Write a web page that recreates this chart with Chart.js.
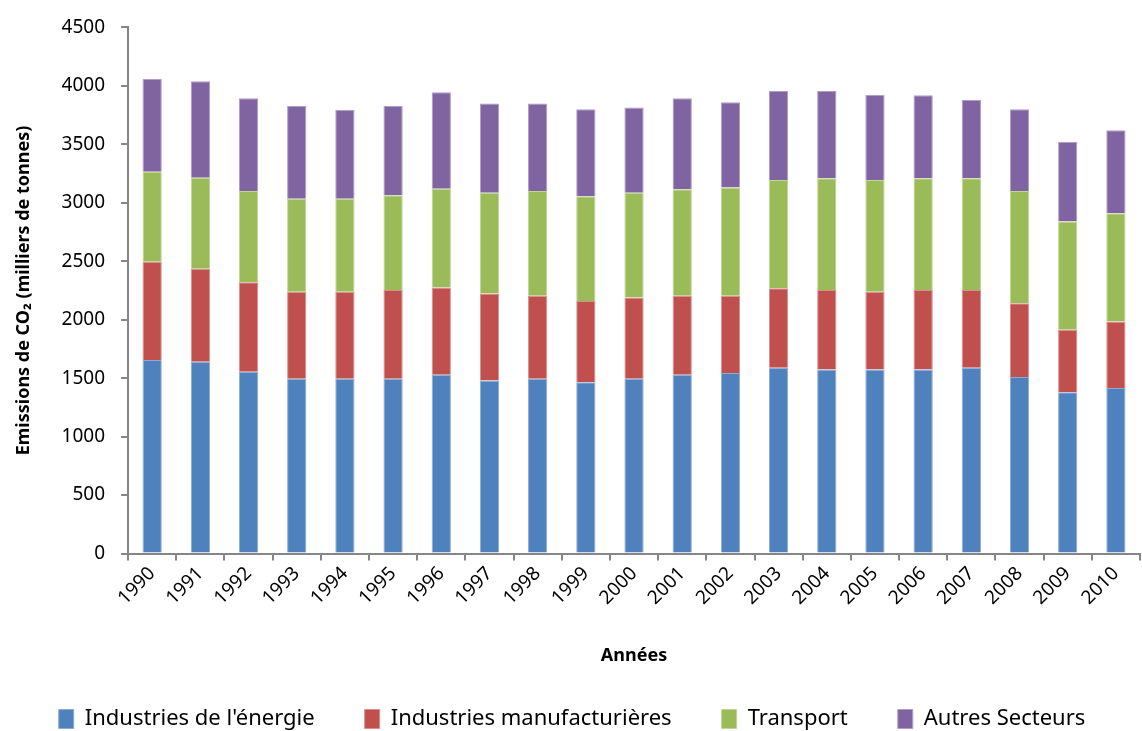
<!DOCTYPE html>
<html>
<head>
<meta charset="utf-8">
<script src="https://cdn.jsdelivr.net/npm/chart.js@4/dist/chart.umd.min.js"></script>
<style>
  html, body { margin: 0; padding: 0; background: #fff; }
  #wrap { width: 1142px; height: 731px; }
</style>
</head>
<body>
<div id="wrap"><canvas id="co2-chart"></canvas></div>
<script>
// Years
const years = ["1990", "1991", "1992", "1993", "1994", "1995", "1996", "1997", "1998", "1999", "2000",
  "2001", "2002", "2003", "2004", "2005", "2006", "2007", "2008", "2009", "2010"];

// Series values (milliers de tonnes)
const energie = [1655, 1640, 1555, 1495, 1495, 1495, 1530, 1480, 1495, 1465, 1495,
  1530, 1545, 1590, 1575, 1575, 1575, 1590, 1510, 1380, 1415];
const manufacturieres = [840, 795, 765, 745, 745, 760, 745, 745, 710, 695, 695,
  675, 660, 680, 680, 665, 680, 665, 630, 535, 570];
const transport = [770, 780, 780, 795, 795, 810, 845, 860, 895, 895, 895,
  910, 925, 925, 955, 955, 955, 955, 960, 925, 925];
const autres = [795, 825, 795, 795, 760, 765, 825, 765, 750, 745, 730,
  780, 730, 760, 745, 730, 710, 670, 700, 680, 710];

const seriesNames = ["Industries de l'énergie", "Industries manufacturières", "Transport", "Autres Secteurs"];
const yTicks = { min: 0, max: 4500, step: 500 };

const ctx = document.getElementById("co2-chart");
const font = "'Noto Sans', 'DejaVu Sans', sans-serif";
const axisGrey = "#868686";

const makeSet = (label, data, fill, edge) => ({
  label: label,
  data: data,
  backgroundColor: fill,
  borderColor: edge,
  borderWidth: 1,
  categoryPercentage: 1.0,
  barPercentage: 0.4,
});

// legend sits low, near the bottom edge, with wide gaps between items
const legendLow = {
  id: "legendLow",
  afterLayout(chart) {
    const lg = chart.legend;
    lg.top = chart.height - 23 - lg.options.labels.padding;
  },
};

new Chart(ctx, {
  type: "bar",
  data: {
    labels: years,
    datasets: [
      makeSet(seriesNames[0], energie, "#4F81BD", "#8EABD6"),
      makeSet(seriesNames[1], manufacturieres, "#C0504D", "#D8908E"),
      makeSet(seriesNames[2], transport, "#9BBB59", "#C0D594"),
      makeSet(seriesNames[3], autres, "#8064A2", "#B09CC8"),
    ],
  },
  plugins: [legendLow],
  options: {
    responsive: true,
    maintainAspectRatio: false,
    animation: false,
    layout: { padding: { top: 18, right: 2, left: 4, bottom: 0 } },
    scales: {
      x: {
        stacked: true,
        border: { color: axisGrey, width: 2 },
        grid: { display: true, drawOnChartArea: false, offset: true, color: axisGrey, lineWidth: 2, tickLength: 7 },
        ticks: {
          color: "#000",
          font: { family: font, size: 19 },
          minRotation: 45,
          maxRotation: 45,
          padding: 2,
        },
        title: {
          display: true,
          text: "Années",
          color: "#000",
          font: { family: font, size: 18, weight: "bold" },
          padding: { top: 34, bottom: 24 },
        },
      },
      y: {
        stacked: true,
        min: yTicks.min,
        max: yTicks.max,
        border: { color: axisGrey, width: 2 },
        grid: { display: true, drawOnChartArea: false, color: axisGrey, lineWidth: 2, tickLength: 7 },
        ticks: {
          stepSize: yTicks.step,
          color: "#000",
          font: { family: font, size: 19 },
          padding: 16,
          callback: (v) => String(v),
        },
        title: {
          display: true,
          text: "Emissions de CO₂ (milliers de tonnes)",
          color: "#000",
          font: { family: font, size: 18, weight: "bold" },
          padding: { top: 9, bottom: 11 },
        },
      },
    },
    plugins: {
      legend: {
        position: "bottom",
        maxHeight: 40,
        labels: {
          color: "#000",
          font: { family: font, size: 22, lineHeight: 1 },
          boxWidth: 15,
          boxHeight: 19,
          padding: 50,
        },
      },
      tooltip: { enabled: false },
    },
  },
});
</script>
</body>
</html>
